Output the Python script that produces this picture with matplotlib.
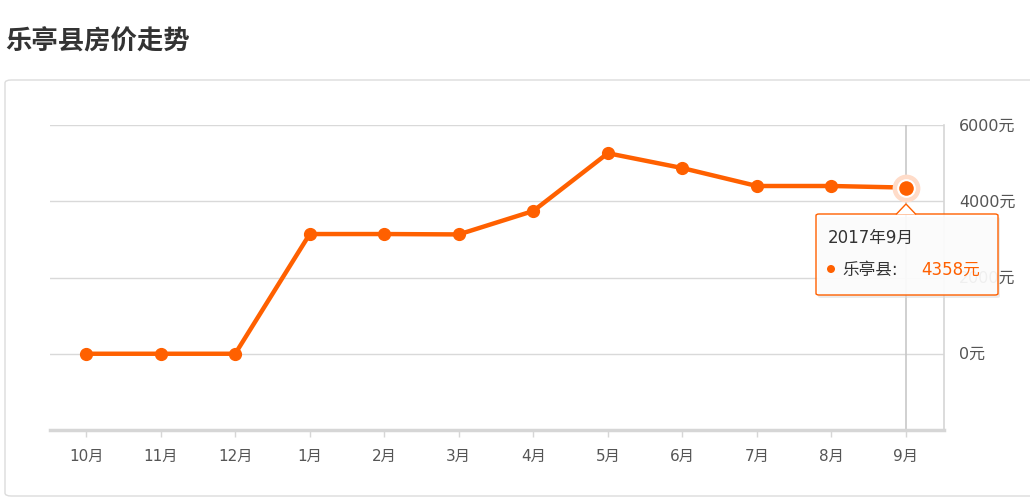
import matplotlib
matplotlib.use("Agg")
import matplotlib.pyplot as plt
from matplotlib.patches import FancyBboxPatch, Polygon, Ellipse
import numpy as np

plt.rcParams['font.family'] = ['DejaVu Sans', 'Noto Sans CJK SC']

months = ["10月", "11月", "12月", "1月", "2月", "3月", "4月", "5月", "6月", "7月", "8月", "9月"]
prices = [0, 0, 0, 3140, 3140, 3130, 3745, 5260, 4870, 4400, 4400, 4358]
yticks = [0, 2000, 4000, 6000]
ytick_labels = ["0元", "2000元", "4000元", "6000元"]
title = "乐亭县房价走势"
tip_date = "2017年9月"
tip_name = "乐亭县:"
tip_value = "4358元"

W, H = 1030, 502
fig = plt.figure(figsize=(W / 100, H / 100), dpi=100)
fig.patch.set_facecolor("white")

# card border
card = FancyBboxPatch((5 / W, 1 - 497 / H), 1.2, (497 - 81) / H,
                      boxstyle="round,pad=0,rounding_size=0.006",
                      transform=fig.transFigure, facecolor="white",
                      edgecolor="#dcdcdc", linewidth=1.0, zorder=-5)
fig.patches.append(card)

fig.text(5 / W, 1 - 42 / H, title, fontsize=19, fontweight="bold", color="#333333",
         va="center", ha="left", family=['Noto Sans CJK SC'])

ax = fig.add_axes([50 / W, 1 - 431 / H, (944 - 50) / W, (431 - 126) / H])
ax.set_zorder(1)
ax.set_facecolor("none")
x = np.arange(len(months))
color = "#ff6000"

ax.set_xlim(-0.485, 11.51)
ax.set_ylim(-2000, 6000)
for yt in yticks:
    ax.axhline(yt, color="#d9d9d9", linewidth=1.0, zorder=1)

# crosshair at last point
ax.axvline(x[-1], color="#c8c8c8", linewidth=1.2, zorder=1)

ax.plot(x, prices, color=color, linewidth=3.2, marker="o", markersize=8.5,
        markerfacecolor=color, markeredgecolor=color, zorder=3, solid_capstyle="round")
ax.plot([x[-1]], [prices[-1]], marker="o", markersize=20, color="#ffdcc9", zorder=4, mew=0)
ax.plot([x[-1]], [prices[-1]], marker="o", markersize=12, color=color,
        markeredgecolor="white", mew=1.5, zorder=5)

for s in ["top", "left"]:
    ax.spines[s].set_visible(False)
ax.spines["bottom"].set_color("#d6d6d6")
ax.spines["bottom"].set_linewidth(2.5)
ax.spines["right"].set_color("#d6d6d6")
ax.spines["right"].set_linewidth(1.2)

ax.set_xticks(x)
ax.set_xticklabels(months)
ax.tick_params(axis="x", length=5, width=1, color="#d6d6d6", labelsize=11,
               labelcolor="#555555", pad=8)
ax.yaxis.tick_right()
ax.set_yticks(yticks)
ax.set_yticklabels(ytick_labels)
ax.tick_params(axis="y", length=0, labelsize=11.5, labelcolor="#555555", pad=11)
for lbl in ax.get_yticklabels():
    lbl.set_verticalalignment("center")

# tooltip
bx0, by0, bx1, by1 = 816, 215, 998, 296
sh = FancyBboxPatch(((bx0 + 2) / W, 1 - (by1 + 3) / H), (bx1 - bx0) / W, (by1 - by0) / H,
                    boxstyle="round,pad=0,rounding_size=0.003", transform=fig.transFigure,
                    facecolor=(0.85, 0.85, 0.85, 0.5), edgecolor="none", zorder=9)
fig.patches.append(sh)
box = FancyBboxPatch((bx0 / W, 1 - by1 / H), (bx1 - bx0) / W, (by1 - by0) / H,
                     boxstyle="round,pad=0,rounding_size=0.003", transform=fig.transFigure,
                     facecolor=(1, 1, 1, 0.85), edgecolor=color, linewidth=1.0, zorder=10)
fig.patches.append(box)
tri = Polygon([((906 - 10) / W, 1 - (by0 + 0.5) / H), (906 / W, 1 - (by0 - 10) / H),
               ((906 + 10) / W, 1 - (by0 + 0.5) / H)], closed=False,
              transform=fig.transFigure, facecolor="white", edgecolor=color,
              linewidth=1.0, zorder=11)
fig.patches.append(tri)
fig.text(828 / W, 1 - 238 / H, tip_date, fontsize=12, color="#333333", va="center",
         ha="left", zorder=12)
fig.patches.append(Ellipse((831 / W, 1 - 270 / H), 8 / W, 8 / H,
                           transform=fig.transFigure, facecolor=color,
                           edgecolor="none", zorder=12))
fig.text(842 / W, 1 - 270 / H, tip_name, fontsize=12, color="#333333", va="center",
         ha="left", zorder=12)
fig.text(921 / W, 1 - 270 / H, tip_value, fontsize=12, color=color, va="center",
         ha="left", zorder=12)

fig.savefig("out.png", dpi=100, facecolor="white")
